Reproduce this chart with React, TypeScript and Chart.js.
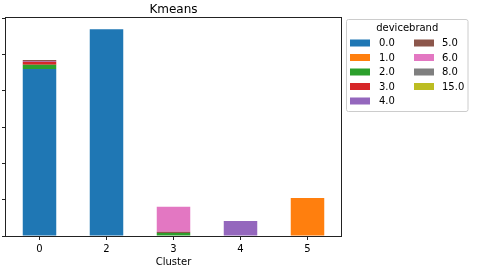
import { useEffect, useRef } from "react";
import { Chart, registerables } from "chart.js";

Chart.register(...registerables);

const clusters = ["0", "2", "3", "4", "5"];
const brandLabels = ["0.0", "1.0", "2.0", "3.0", "4.0", "5.0", "6.0", "8.0", "15.0"];
const brandColors = ["#1f77b4", "#ff7f0e", "#2ca02c", "#d62728", "#9467bd", "#8c564b", "#e377c2", "#7f7f7f", "#bcbd22"];

const brand0 = [4440, 5500, 0, 0, 0];
const brand1 = [0, 0, 0, 0, 1010];
const brand2 = [114, 0, 80, 0, 0];
const brand3 = [80, 0, 0, 0, 0];
const brand4 = [20, 0, 0, 400, 0];
const brand5 = [30, 0, 35, 0, 0];
const brand6 = [0, 0, 665, 0, 0];
const brand8 = [0, 0, 0, 0, 0];
const brand15 = [0, 0, 0, 0, 0];

const seriesValues = [brand0, brand1, brand2, brand3, brand4, brand5, brand6, brand8, brand15];

const FONT = "'DejaVu Sans', sans-serif";

const framePlugin = {
  id: "frame",
  afterDatasetsDraw(chart: any) {
    const { ctx, chartArea } = chart;
    ctx.save();
    ctx.strokeStyle = "#222";
    ctx.lineWidth = 1;
    ctx.strokeRect(chartArea.left - 0.5, chartArea.top - 0.5, chartArea.right - chartArea.left + 1, chartArea.bottom - chartArea.top + 1);
    ctx.restore();
  },
};

const titlePlugin = {
  id: "mtitle",
  afterDraw(chart: any) {
    const { ctx, chartArea } = chart;
    ctx.save();
    ctx.fillStyle = "#000";
    ctx.font = `12px ${FONT}`;
    ctx.textAlign = "center";
    ctx.textBaseline = "alphabetic";
    ctx.fillText("Kmeans", (chartArea.left + chartArea.right) / 2, 12.5);
    ctx.restore();
  },
};

const legendPlugin = {
  id: "mlegend",
  afterDraw(chart: any) {
    const { ctx } = chart;
    const x0 = 346.5, y0 = 19.5, w = 121.5, h = 92;
    ctx.save();
    ctx.fillStyle = "rgba(255,255,255,0.8)";
    ctx.strokeStyle = "#cccccc";
    ctx.lineWidth = 1;
    ctx.beginPath();
    if ((ctx as any).roundRect) (ctx as any).roundRect(x0, y0, w, h, 2);
    else ctx.rect(x0, y0, w, h);
    ctx.fill();
    ctx.stroke();
    ctx.fillStyle = "#000";
    ctx.font = `10px ${FONT}`;
    ctx.textAlign = "center";
    ctx.textBaseline = "middle";
    ctx.fillText("devicebrand", x0 + w / 2, 28.5);
    ctx.textAlign = "left";
    const ds = chart.data.datasets;
    ds.forEach((d: any, i: number) => {
      const col = i < 5 ? 0 : 1;
      const row = i < 5 ? i : i - 5;
      const sx = col === 0 ? 350 : 414;
      const tx = col === 0 ? 379 : 442;
      const cy = 43 + row * 14.5;
      ctx.fillStyle = d.backgroundColor;
      ctx.fillRect(sx, cy - 3.5, 20, 7);
      ctx.fillStyle = "#000";
      ctx.fillText(d.label, tx, cy + 0.5);
    });
    ctx.restore();
  },
};

export default function App() {
  const ref = useRef<HTMLCanvasElement | null>(null);
  useEffect(() => {
    if (!ref.current) return;
    const chart = new Chart(ref.current, {
      type: "bar",
      data: {
        labels: clusters,
        datasets: seriesValues.map((vals, i) => ({
          label: brandLabels[i],
          data: vals,
          backgroundColor: brandColors[i],
          borderWidth: 0,
          categoryPercentage: 1,
          barPercentage: 0.5,
        })),
      },
      options: {
        responsive: false,
        animation: false,
        devicePixelRatio: 1,
        layout: { padding: { left: 0, right: 136, top: 18, bottom: 0 } },
        plugins: {
          legend: { display: false },
          title: { display: false },
          tooltip: { enabled: false },
        },
        scales: {
          x: {
            stacked: true,
            afterFit(scale: any) {
              scale.height = 35;
            },
            grid: { drawOnChartArea: false, offset: false, tickLength: 4, color: "#222", lineWidth: 1 },
            border: { display: false },
            ticks: { color: "#000", font: { family: FONT, size: 10 }, padding: 3, maxRotation: 0 },
            title: { display: true, text: "Cluster", color: "#000", font: { family: FONT, size: 10 }, padding: { top: 0, bottom: 3 } },
          },
          y: {
            stacked: true,
            min: 0,
            max: 5800,
            afterFit(scale: any) {
              scale.width = 6;
            },
            grid: { drawOnChartArea: false, tickLength: 4, color: "#222", lineWidth: 1 },
            border: { display: false },
            ticks: { display: false, stepSize: 1000, includeBounds: false },
          },
        },
      },
      plugins: [framePlugin, titlePlugin, legendPlugin],
    });
    return () => chart.destroy();
  }, []);
  return (
    <div style={{ position: "absolute", left: 0, top: 0, width: 477, height: 271, background: "#fff" }}>
      <canvas ref={ref} width={477} height={271} style={{ display: "block" }} />
    </div>
  );
}
